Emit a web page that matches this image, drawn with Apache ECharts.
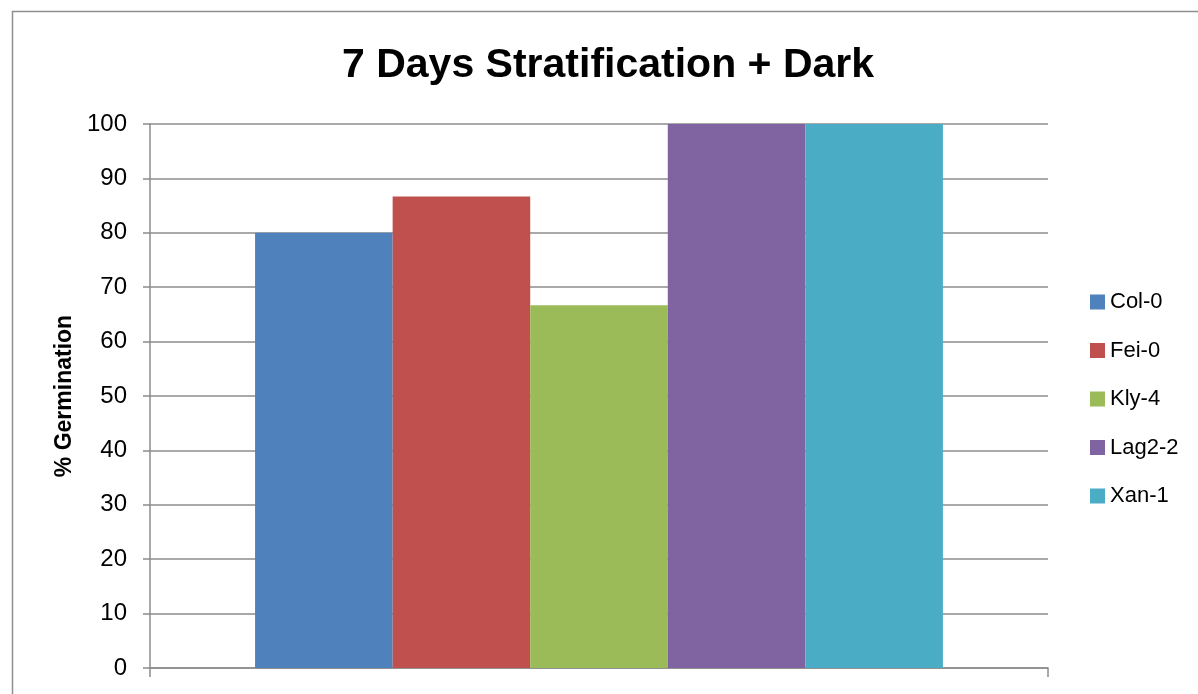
<!DOCTYPE html>
<html>
<head>
<meta charset="utf-8">
<script src="https://cdn.jsdelivr.net/npm/echarts@6/dist/echarts.min.js"></script>
<style>
html,body{margin:0;padding:0;background:#fff;}
#chart{width:1198px;height:694px;}
</style>
</head>
<body>
<div id="chart"></div>
<script>
const titleText = '7 Days Stratification + Dark';
const yAxisName = '% Germination';
const seriesNames = ['Col-0', 'Fei-0', 'Kly-4', 'Lag2-2', 'Xan-1'];
const seriesValues = [80, 86.67, 66.67, 100, 100];
const seriesColors = ['#4F81BD', '#C0504D', '#9BBB59', '#8064A2', '#4BACC6'];
const categories = [''];

const chart = echarts.init(document.getElementById('chart'));
const FONT = '"Liberation Sans", Arial, sans-serif';

chart.setOption({
  animation: false,
  backgroundColor: '#ffffff',
  textStyle: { fontFamily: FONT },
  graphic: [{
    type: 'rect',
    shape: { x: 12.5, y: 11.5, width: 1400, height: 900 },
    style: { fill: 'none', stroke: '#8e8e8e', lineWidth: 1.5 },
    silent: true
  }],
  title: {
    text: titleText,
    left: 342,
    top: 45,
    padding: 0,
    textStyle: { fontFamily: FONT, fontSize: 41, fontWeight: 'bold', color: '#000' }
  },
  legend: {
    orient: 'vertical',
    left: 1090,
    top: 291,
    padding: 0,
    icon: 'rect',
    itemWidth: 15,
    itemHeight: 15,
    itemGap: 26.5,
    textStyle: { fontFamily: FONT, fontSize: 22, color: '#000', lineHeight: 22 },
    data: seriesNames
  },
  grid: { left: 150, right: 150, top: 124, bottom: 26, containLabel: false },
  xAxis: {
    type: 'category',
    data: categories,
    boundaryGap: true,
    axisLine: { lineStyle: { color: '#8c8c8c', width: 1.5 } },
    axisTick: { show: true, length: 9, lineStyle: { color: '#8c8c8c', width: 1.5 } },
    axisLabel: { show: false }
  },
  yAxis: {
    type: 'value',
    min: 0,
    max: 100,
    interval: 10,
    name: yAxisName,
    nameLocation: 'middle',
    nameGap: 72,
    nameTextStyle: { fontFamily: FONT, fontSize: 23, fontWeight: 'bold', color: '#000' },
    axisLine: { show: true, lineStyle: { color: '#8c8c8c', width: 1.5 } },
    axisTick: { show: true, length: 7, lineStyle: { color: '#8c8c8c', width: 1.5 } },
    axisLabel: { fontFamily: FONT, fontSize: 24, color: '#000', margin: 23 },
    splitLine: { show: true, lineStyle: { color: '#8c8c8c', width: 1.5 } }
  },
  series: seriesNames.map((name, i) => ({
    name: name,
    type: 'bar',
    data: [seriesValues[i]],
    itemStyle: { color: seriesColors[i] },
    barGap: '0%',
    barCategoryGap: '23.4%'
  }))
});
</script>
</body>
</html>
